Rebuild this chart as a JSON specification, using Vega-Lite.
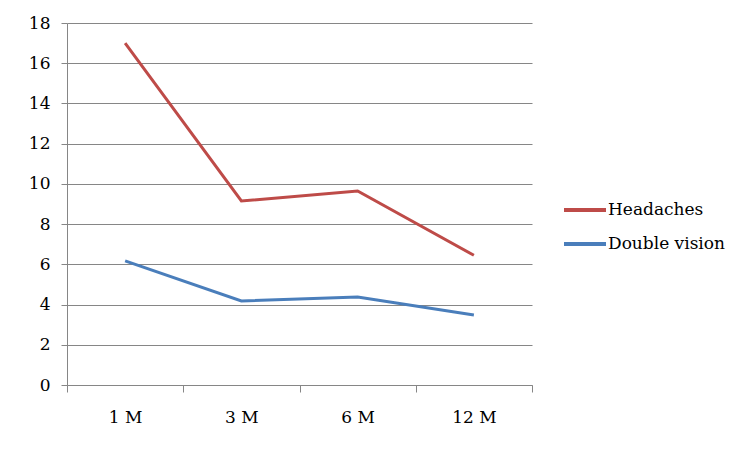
{
  "$schema": "https://vega.github.io/schema/vega-lite/v6.json",
  "width": 465,
  "height": 362,
  "autosize": "none",
  "padding": {"left": 67, "top": 23, "right": 221, "bottom": 66},
  "background": "white",
  "data": {
    "values": [
      {"period": "1 M", "series": "Headaches", "value": 17.0},
      {"period": "3 M", "series": "Headaches", "value": 9.15},
      {"period": "6 M", "series": "Headaches", "value": 9.65},
      {"period": "12 M", "series": "Headaches", "value": 6.45},
      {"period": "1 M", "series": "Double vision", "value": 6.17},
      {"period": "3 M", "series": "Double vision", "value": 4.18},
      {"period": "6 M", "series": "Double vision", "value": 4.38},
      {"period": "12 M", "series": "Double vision", "value": 3.48}
    ]
  },
  "mark": {"type": "line", "strokeWidth": 3},
  "encoding": {
    "x": {
      "field": "period",
      "type": "ordinal",
      "sort": ["1 M", "3 M", "6 M", "12 M"],
      "bandPosition": 0.5,
      "scale": {"type": "band", "paddingInner": 0, "paddingOuter": 0},
      "axis": {
        "title": null,
        "labelAngle": 0,
        "tickBand": "extent",
        "grid": false,
        "tickSize": 7,
        "labelPadding": 17,
        "domainColor": "#868686",
        "tickColor": "#868686"
      }
    },
    "y": {
      "field": "value",
      "type": "quantitative",
      "scale": {"domain": [0, 18], "nice": false},
      "axis": {
        "title": null,
        "values": [0, 2, 4, 6, 8, 10, 12, 14, 16, 18],
        "tickSize": 6,
        "labelPadding": 11,
        "domainColor": "#868686",
        "tickColor": "#868686",
        "gridColor": "#868686"
      }
    },
    "color": {
      "field": "series",
      "type": "nominal",
      "scale": {"domain": ["Headaches", "Double vision"], "range": ["#BE4B48", "#4A7EBB"]},
      "legend": {
        "title": null,
        "orient": "none",
        "legendX": 495,
        "legendY": 164,
        "symbolType": "stroke",
        "symbolSize": 1764,
        "symbolStrokeWidth": 4,
        "labelOffset": 0,
        "rowPadding": 3,
        "padding": 0
      }
    }
  },
  "config": {
    "view": {"stroke": null},
    "font": "DejaVu Serif",
    "axis": {"labelFont": "DejaVu Serif", "labelFontSize": 17, "labelColor": "#000000", "domainWidth": 1, "gridWidth": 1},
    "legend": {"labelFont": "DejaVu Serif", "labelFontSize": 17, "labelColor": "#000000"}
  }
}
